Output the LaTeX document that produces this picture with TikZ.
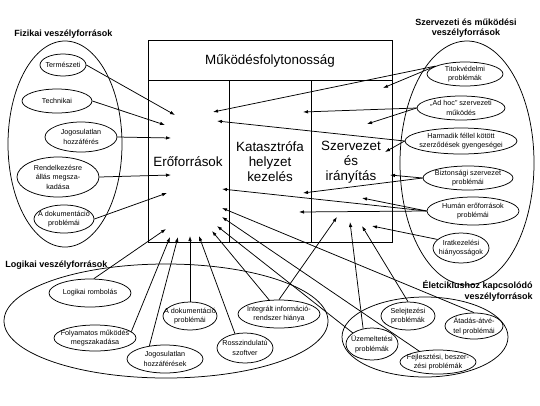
\documentclass[tikz,border=0pt]{standalone}
\usepackage{fontspec}
\setmainfont{Liberation Sans}
\usetikzlibrary{shapes.geometric,arrows.meta}
\begin{document}
\begin{tikzpicture}[x=1pt,y=-1pt,line width=0.75pt,
  el/.style={ellipse,draw,inner sep=0pt},
  lbl/.style={inner sep=0pt,align=center,font=\fontsize{7.2}{9.5}\selectfont},
  hdr/.style={font=\fontsize{9}{10.5}\selectfont\bfseries,align=center,inner sep=0pt},
  big/.style={font=\fontsize{13.4}{15}\selectfont,align=center,inner sep=0pt},
  arr/.style={-{Latex[length=5pt,width=3.5pt]}}]
\useasboundingbox (0,0) rectangle (540,405);

% main box
\draw (148,40) rectangle (392,242);
\draw (148,80) -- (392,80);
\draw (229,80) -- (229,242);
\draw (311,80) -- (311,242);
\node[big] (mf) at (270,61) {Működésfolytonosság};
\node[big] (ero) at (188,162) {Erőforrások};
\node[big] (kat) at (270,162) {Katasztrófa\\helyzet\\kezelés};
\node[big] (szi) at (351,162) {Szervezet\\és\\irányítás};

% headers
\node[hdr,anchor=west] (hfiz) at (14,34) {Fizikai veszélyforrások};
\node[hdr] (hszer) at (466,28) {Szervezeti és működési\\veszélyforrások};
\node[hdr,anchor=west] (hlog) at (5,265) {Logikai veszélyforrások};
\node[hdr,align=right,anchor=east] (helet) at (533,291) {Életciklushoz kapcsolódó\\veszélyforrások};

% group ellipses
\node[el,minimum width=114pt,minimum height=206pt] (gfiz) at (65,144) {};
\node[el,minimum width=134pt,minimum height=244pt] (gszer) at (467,163) {};
\node[el,minimum width=324pt,minimum height=114pt] (glog) at (166,321) {};
\node[el,minimum width=166pt,minimum height=80pt] (gelet) at (425,337) {};

% physical
\node[el,minimum width=46pt,minimum height=22pt,label={[lbl]center:Természeti}] (ter) at (63,65) {};
\node[el,minimum width=70pt,minimum height=24pt,label={[lbl]center:Technikai}] (tec) at (57,101) {};
\node[el,minimum width=72pt,minimum height=30pt,label={[lbl]center:Jogosulatlan\\hozzáférés}] (jog) at (81,137) {};
\node[el,minimum width=82pt,minimum height=40pt,label={[lbl]center:Rendelkezésre\\állás megsza-\\kadása}] (ren) at (58,177) {};
\node[el,minimum width=60pt,minimum height=28pt,label={[lbl]center:A dokumentáció\\problémái}] (dok) at (64,219) {};

% organisational
\node[el,minimum width=76pt,minimum height=24pt,label={[lbl]center:Titokvédelmi\\problémák}] (tit) at (465,74) {};
\node[el,minimum width=88pt,minimum height=24pt,label={[lbl]center:„Ad hoc” szervezeti\\működés}] (adh) at (461,108) {};
\node[el,minimum width=112pt,minimum height=26pt,label={[lbl]center:Harmadik féllel kötött\\szerződések gyengeségei}] (har) at (461,141) {};
\node[el,minimum width=90pt,minimum height=24pt,label={[lbl]center:Biztonsági szervezet\\problémái}] (biz) at (468,178) {};
\node[el,minimum width=92pt,minimum height=28pt,label={[lbl]center:Humán erőforrások\\problémái}] (hum) at (473,211) {};
\node[el,minimum width=56pt,minimum height=30pt,label={[lbl]center:Iratkezelési\\hiányosságok}] (ira) at (461,248) {};

% logical
\node[el,minimum width=82pt,minimum height=28pt,label={[lbl]center:Logikai rombolás}] (lrom) at (90,293) {};
\node[el,minimum width=82pt,minimum height=26pt,label={[lbl]center:Folyamatos működés\\megszakadása}] (fol) at (95,338) {};
\node[el,minimum width=76pt,minimum height=28pt,label={[lbl]center:Jogosulatlan\\hozzáférések}] (jogh) at (165,359) {};
\node[el,minimum width=54pt,minimum height=28pt,label={[lbl]center:A dokumentáció\\problémái}] (ldok) at (190,316) {};
\node[el,minimum width=56pt,minimum height=30pt,label={[lbl]center:Rosszindulatú\\szoftver}] (rossz) at (245,348) {};
\node[el,minimum width=82pt,minimum height=28pt,label={[lbl]center:Integrált információ-\\rendszer hiánya}] (integ) at (279,314) {};

% life cycle
\node[el,minimum width=54pt,minimum height=28pt,label={[lbl]center:Selejtezési\\problémák}] (sel) at (408,316) {};
\node[el,minimum width=58pt,minimum height=26pt,label={[lbl]center:Átadás-átvé-\\tel problémái}] (ata) at (474,326) {};
\node[el,minimum width=52pt,minimum height=32pt,label={[lbl]center:Üzemeltetési\\problémák}] (uzem) at (372,344) {};
\node[el,minimum width=76pt,minimum height=24pt,label={[lbl]center:Fejlesztési, beszer-\\zési problémák}] (fej) at (438,362) {};

% arrow targets
\coordinate (f1) at (175,115);
\coordinate (f2) at (165,125);
\coordinate (f3) at (171,138);
\coordinate (f4) at (171,175);
\coordinate (f5) at (167,193);
\coordinate (s1) at (213,112);
\coordinate (s2) at (383,88);
\coordinate (s3) at (303,112);
\coordinate (s4) at (367,124);
\coordinate (s5) at (217,121);
\coordinate (s6) at (385,152);
\coordinate (s7) at (303,193);
\coordinate (s8) at (390,175);
\coordinate (s9) at (222,189);
\coordinate (s10) at (299,212);
\coordinate (s11) at (362,198);
\coordinate (s12) at (372,226);
\coordinate (l1) at (166,229);
\coordinate (l2) at (170,237);
\coordinate (l3) at (178,237);
\coordinate (l4) at (190,236);
\coordinate (l5) at (199,236);
\coordinate (l6) at (337,217);
\coordinate (l7) at (212,231);
\coordinate (e1) at (362,226);
\coordinate (e2) at (350,222);
\coordinate (e3) at (222,208);
\coordinate (e4) at (222,217);
\coordinate (e5) at (217,226);

% physical arrows
\draw[arr] (ter.east) -- (f1);
\draw[arr] (tec.east) -- (f2);
\draw[arr] (jog.east) -- (f3);
\draw[arr] (ren.east) -- (f4);
\draw[arr] (dok.east) -- (f5);

% organisational arrows
\draw[arr] (tit.165) -- (s1);
\draw[arr] (tit.165) -- (s2);
\draw[arr] (adh.west) -- (s3);
\draw[arr] (adh.west) -- (s4);
\draw[arr] (har.west) -- (s5);
\draw[arr] (har.west) -- (s6);
\draw[arr] (biz.west) -- (s7);
\draw[arr] (biz.west) -- (s8);
\draw[arr] (hum.west) -- (s9);
\draw[arr] (hum.west) -- (s10);
\draw[arr] (hum.west) -- (s11);
\draw[arr] (ira.160) -- (s12);

% logical arrows
\draw[arr] (lrom.75) -- (l1);
\draw[arr] (fol.10) -- (l2);
\draw[arr] (jogh.140) -- (l3);
\draw[arr] (ldok.north) -- (l4);
\draw[arr] (rossz.125) -- (l5);
\draw[arr] (integ.north) -- (l6);
\draw[arr] (integ.125) -- (l7);

% life cycle arrows
\draw[arr] (sel.north) -- (e1);
\draw[arr] (uzem.120) -- (e2);
\draw[arr] (ata.north) -- (e3);
\draw[arr] (fej.150) -- (e4);
\draw[arr] (uzem.150) -- (e5);
\end{tikzpicture}
\end{document}
